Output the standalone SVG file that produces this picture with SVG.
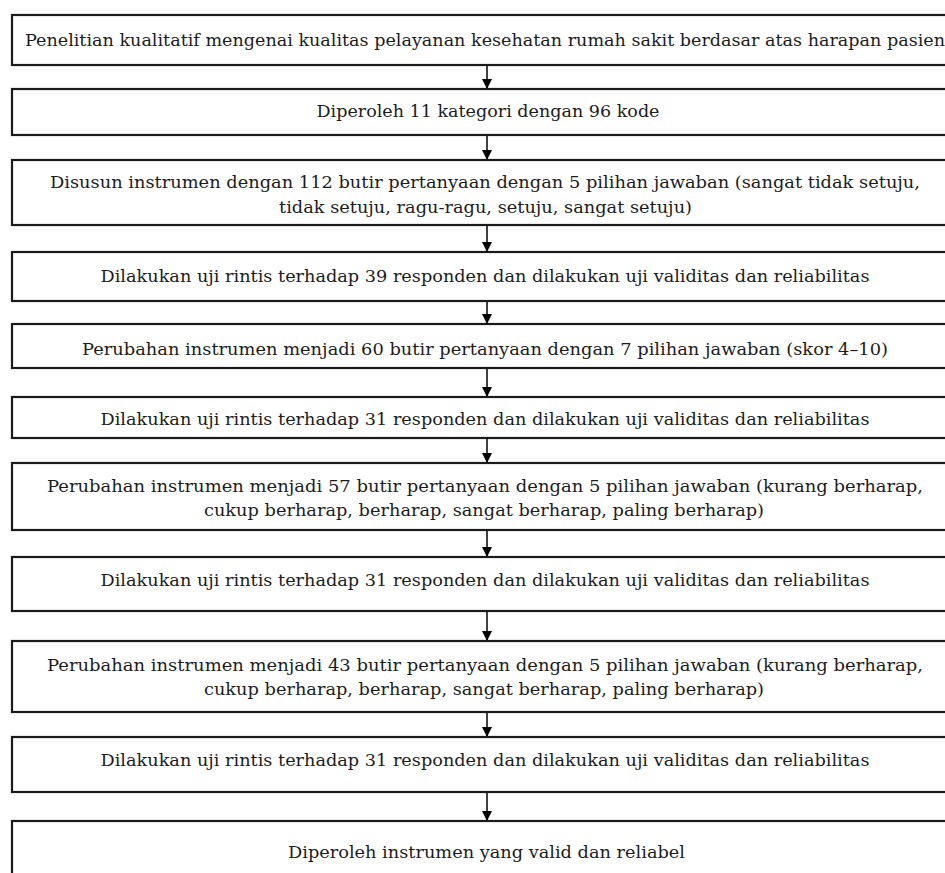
<svg xmlns="http://www.w3.org/2000/svg" width="945" height="873" viewBox="0 0 945 873">
<defs>
<marker id="ah" viewBox="0 0 10 10" refX="10" refY="5" markerWidth="10" markerHeight="10" markerUnits="userSpaceOnUse" orient="auto">
<path d="M0,0 L10,5 L0,10 Z" fill="#000"/>
</marker>
<style>
.box{fill:#fff;stroke:#1a1a1a;stroke-width:2.2}
.t{font-family:"DejaVu Serif","Liberation Serif",serif;font-size:17.5px;fill:#1c1c1c;text-anchor:middle}
.c{stroke:#000;stroke-width:1.5;fill:none}
</style>
</defs>
<rect width="945" height="873" fill="#fff"/>
<g id="connectors">
<line class="c" x1="487" y1="65" x2="487" y2="89" marker-end="url(#ah)"/>
<line class="c" x1="487" y1="135" x2="487" y2="160" marker-end="url(#ah)"/>
<line class="c" x1="487" y1="225" x2="487" y2="252" marker-end="url(#ah)"/>
<line class="c" x1="487" y1="301" x2="487" y2="324" marker-end="url(#ah)"/>
<line class="c" x1="487" y1="368" x2="487" y2="397" marker-end="url(#ah)"/>
<line class="c" x1="487" y1="438" x2="487" y2="463" marker-end="url(#ah)"/>
<line class="c" x1="487" y1="530" x2="487" y2="557" marker-end="url(#ah)"/>
<line class="c" x1="487" y1="611" x2="487" y2="641" marker-end="url(#ah)"/>
<line class="c" x1="487" y1="712" x2="487" y2="737" marker-end="url(#ah)"/>
<line class="c" x1="487" y1="792" x2="487" y2="821" marker-end="url(#ah)"/>
</g>
<g id="n1"><rect class="box" x="12" y="15" width="936" height="50"/>
<text class="t" x="485" y="46" textLength="920" lengthAdjust="spacingAndGlyphs">Penelitian kualitatif mengenai kualitas pelayanan kesehatan rumah sakit berdasar atas harapan pasien</text></g>
<g id="n2"><rect class="box" x="12" y="89" width="936" height="46"/>
<text class="t" x="488" y="117" textLength="343" lengthAdjust="spacingAndGlyphs">Diperoleh 11 kategori dengan 96 kode</text></g>
<g id="n3"><rect class="box" x="12" y="160" width="936" height="65"/>
<text class="t" x="485" y="188" textLength="870" lengthAdjust="spacingAndGlyphs">Disusun instrumen dengan 112 butir pertanyaan dengan 5 pilihan jawaban (sangat tidak setuju,</text>
<text class="t" x="485.5" y="213" textLength="413" lengthAdjust="spacingAndGlyphs">tidak setuju, ragu-ragu, setuju, sangat setuju)</text></g>
<g id="n4"><rect class="box" x="12" y="252" width="936" height="49"/>
<text class="t" x="485" y="282" textLength="769" lengthAdjust="spacingAndGlyphs">Dilakukan uji rintis terhadap 39 responden dan dilakukan uji validitas dan reliabilitas</text></g>
<g id="n5"><rect class="box" x="12" y="324" width="936" height="44"/>
<text class="t" x="485" y="355" textLength="806" lengthAdjust="spacingAndGlyphs">Perubahan instrumen menjadi 60 butir pertanyaan dengan 7 pilihan jawaban (skor 4–10)</text></g>
<g id="n6"><rect class="box" x="12" y="397" width="936" height="41"/>
<text class="t" x="485" y="425" textLength="769" lengthAdjust="spacingAndGlyphs">Dilakukan uji rintis terhadap 31 responden dan dilakukan uji validitas dan reliabilitas</text></g>
<g id="n7"><rect class="box" x="12" y="463" width="936" height="67"/>
<text class="t" x="485" y="492" textLength="876" lengthAdjust="spacingAndGlyphs">Perubahan instrumen menjadi 57 butir pertanyaan dengan 5 pilihan jawaban (kurang berharap,</text>
<text class="t" x="484" y="516" textLength="560" lengthAdjust="spacingAndGlyphs">cukup berharap, berharap, sangat berharap, paling berharap)</text></g>
<g id="n8"><rect class="box" x="12" y="557" width="936" height="54"/>
<text class="t" x="485" y="586" textLength="769" lengthAdjust="spacingAndGlyphs">Dilakukan uji rintis terhadap 31 responden dan dilakukan uji validitas dan reliabilitas</text></g>
<g id="n9"><rect class="box" x="12" y="641" width="936" height="71"/>
<text class="t" x="485" y="671" textLength="876" lengthAdjust="spacingAndGlyphs">Perubahan instrumen menjadi 43 butir pertanyaan dengan 5 pilihan jawaban (kurang berharap,</text>
<text class="t" x="484" y="695" textLength="560" lengthAdjust="spacingAndGlyphs">cukup berharap, berharap, sangat berharap, paling berharap)</text></g>
<g id="n10"><rect class="box" x="12" y="737" width="936" height="55"/>
<text class="t" x="485" y="766" textLength="769" lengthAdjust="spacingAndGlyphs">Dilakukan uji rintis terhadap 31 responden dan dilakukan uji validitas dan reliabilitas</text></g>
<g id="n11"><rect class="box" x="12" y="821" width="936" height="60"/>
<text class="t" x="486.5" y="858" textLength="397" lengthAdjust="spacingAndGlyphs">Diperoleh instrumen yang valid dan reliabel</text></g>
</svg>
